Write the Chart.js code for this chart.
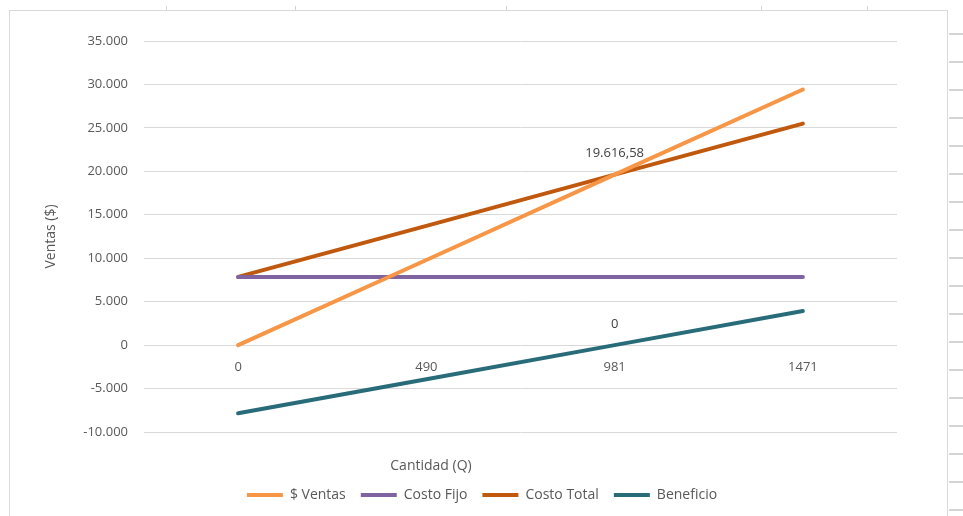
<!DOCTYPE html>
<html lang="es">
<head>
<meta charset="utf-8">
<title>Punto de equilibrio</title>
<script src="https://cdn.jsdelivr.net/npm/chart.js@4.4.1/dist/chart.umd.min.js"></script>
<style>
  html, body { margin: 0; padding: 0; background: #fff; }
  body { width: 963px; height: 516px; position: relative; overflow: hidden; }
  /* sheet frame around the chart object */
  #frame { position: absolute; left: 9px; top: 10px; width: 939px; height: 520px;
           border: 1px solid #d9d9d9; box-sizing: border-box; }
  #rows { position: absolute; left: 949px; top: 10px; width: 14px; height: 506px;
          background: repeating-linear-gradient(to bottom, transparent 0, transparent 23px, #d4d4d4 23px, #d4d4d4 25px, transparent 25px, transparent 28px); }
  .colmark { position: absolute; top: 6px; width: 1px; height: 4px; background: #d4d4d4; }
  #wrap { position: absolute; left: 0; top: 0; width: 963px; height: 516px; }
</style>
</head>
<body>
<div id="frame"></div>
<div id="rows"></div>
<div class="colmark" style="left:166px"></div>
<div class="colmark" style="left:295px"></div>
<div class="colmark" style="left:506px"></div>
<div class="colmark" style="left:761px"></div>
<div class="colmark" style="left:867px"></div>
<div id="wrap"><canvas id="c" width="963" height="516"></canvas></div>
<script>
// Quantities (units) on the category axis
const cantidades = ['0', '490', '981', '1471'];

// Series values in $
const ventas      = [0, 9800, 19616.58, 29420];
const costoFijo   = [7846.63, 7846.63, 7846.63, 7846.63];
const costoTotal  = [7846.63, 13726.63, 19616.58, 25498.63];
const beneficio   = [-7846.63, -3926.63, 0, 3921.37];

// Value axis range and step
const yMin = -10000, yMax = 35000, yStep = 5000;

// Points that carry a value label: [series name, category index]
const etiquetas = [['Costo Total', 2], ['Beneficio', 2]];

const gris = '#595959';
const fuente = "'Open Sans', 'Liberation Sans', sans-serif";

// Spanish-style number format: 35.000 / 19.616,58
function formato(v) {
  const neg = v < 0;
  const abs = Math.abs(v);
  const ent = Math.floor(Math.round(abs * 100) / 100);
  const dec = Math.round((abs - ent) * 100);
  let s = String(ent).replace(/\B(?=(\d{3})+(?!\d))/g, '.');
  if (dec > 0) s += ',' + String(dec).padStart(2, '0');
  return (neg ? '-' : '') + s;
}

const series = [
  { label: '$ Ventas',    data: ventas,     color: '#F79646' },
  { label: 'Costo Fijo',  data: costoFijo,  color: '#8064A2' },
  { label: 'Costo Total', data: costoTotal, color: '#C0590E' },
  { label: 'Beneficio',   data: beneficio,  color: '#286C7A' }
];

// Value labels above selected points
const valorPlugin = {
  id: 'valores',
  afterDatasetsDraw(chart) {
    const ctx = chart.ctx;
    ctx.save();
    ctx.font = '13px ' + fuente;
    ctx.fillStyle = '#404040';
    ctx.textAlign = 'center';
    ctx.textBaseline = 'middle';
    etiquetas.forEach(([nombre, i]) => {
      const di = chart.data.datasets.findIndex(d => d.label === nombre);
      if (di < 0) return;
      const el = chart.getDatasetMeta(di).data[i];
      ctx.fillText(formato(chart.data.datasets[di].data[i]), el.x, el.y - 21);
    });
    ctx.restore();
  }
};

// Category axis title placed under the plot
const tituloX = {
  id: 'tituloX',
  afterDraw(chart) {
    const ctx = chart.ctx;
    ctx.save();
    ctx.font = '14px ' + fuente;
    ctx.fillStyle = gris;
    ctx.textAlign = 'center';
    ctx.textBaseline = 'middle';
    ctx.fillText('Cantidad (Q)', 431, 466);
    ctx.restore();
  }
};

new Chart(document.getElementById('c'), {
  type: 'line',
  data: {
    labels: cantidades,
    datasets: series.map(s => ({
      label: s.label,
      data: s.data,
      borderColor: s.color,
      backgroundColor: s.color,
      borderWidth: 4,
      borderCapStyle: 'round',
      pointRadius: 0,
      tension: 0,
      fill: false
    }))
  },
  options: {
    responsive: false,
    animation: false,
    layout: { padding: { left: 9, top: 41, right: 8, bottom: 4 } },
    plugins: {
      legend: {
        position: 'bottom',
        labels: {
          color: gris,
          font: { family: fuente, size: 14 },
          boxWidth: 36,
          boxHeight: 4,
          padding: 15,
          generateLabels(chart) {
            return chart.data.datasets.map((d, i) => ({
              text: d.label,
              fillStyle: d.borderColor,
              strokeStyle: d.borderColor,
              lineWidth: 0,
              fontColor: gris,
              datasetIndex: i
            }));
          }
        }
      },
      tooltip: { enabled: false }
    },
    scales: {
      x: {
        type: 'category',
        offset: true,
        position: { y: 0 },
        grid: { display: false, drawTicks: false },
        border: { display: false },
        ticks: { color: gris, font: { family: fuente, size: 13 }, padding: 14, maxRotation: 0 }
      },
      // empty band between the plot and the legend that holds the axis title
      xBanda: {
        type: 'category',
        position: 'bottom',
        offset: true,
        afterFit(scale) { scale.height = 41; },
        grid: { display: false, drawTicks: false },
        border: { display: false },
        ticks: { display: false }
      },
      y: {
        min: yMin,
        max: yMax,
        afterFit(scale) { scale.width = 135; },
        grid: { color: '#d9d9d9', lineWidth: 1, drawTicks: false },
        border: { display: false },
        ticks: {
          stepSize: yStep,
          color: gris,
          font: { family: fuente, size: 13 },
          padding: 16,
          callback: v => formato(v)
        },
        title: {
          display: true,
          text: 'Ventas ($)',
          color: gris,
          font: { family: fuente, size: 14 },
          padding: { top: 34, bottom: 0 }
        }
      },
      // empty margin to the right of the plot
      yMargen: {
        type: 'linear',
        position: 'right',
        afterFit(scale) { scale.width = 58; },
        grid: { display: false, drawTicks: false },
        border: { display: false },
        ticks: { display: false }
      }
    }
  },
  plugins: [valorPlugin, tituloX]
});
</script>
</body>
</html>
